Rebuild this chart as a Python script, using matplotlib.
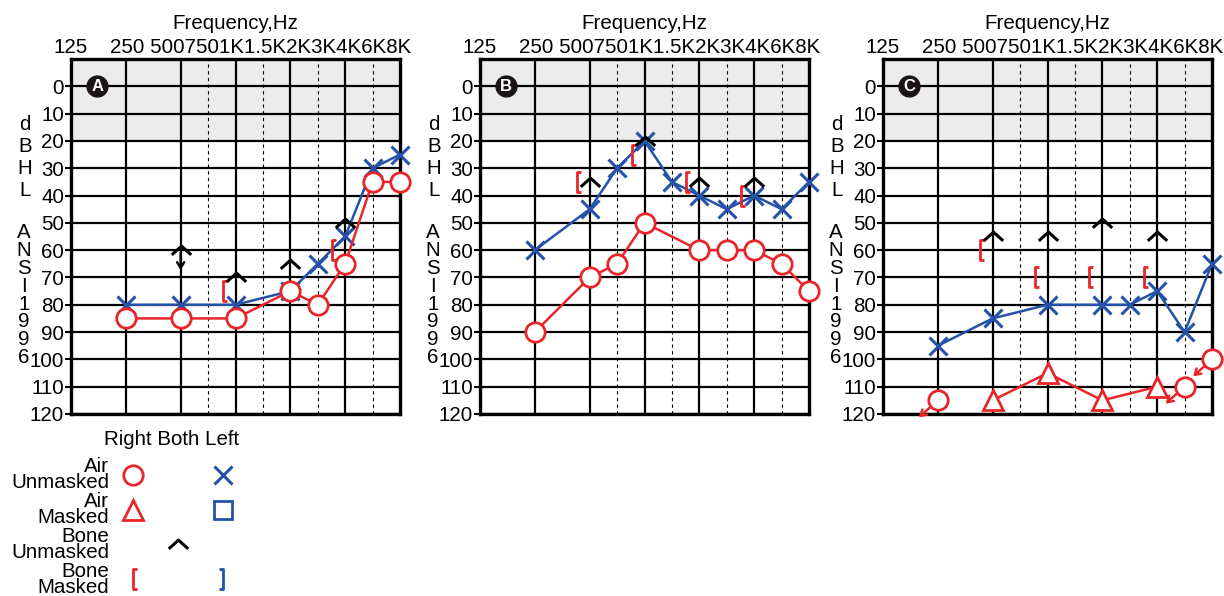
import numpy as np
import matplotlib
matplotlib.use("Agg")
import matplotlib.pyplot as plt
from matplotlib.path import Path
from matplotlib import transforms

plt.rcParams['font.family'] = ['Liberation Sans', 'DejaVu Sans']

RED = '#e8262a'
BLUE = '#2352a8'
FS = 14.8

freq_ticks = [125, 250, 500, 750, 1000, 1500, 2000, 3000, 4000, 6000, 8000]
freq_labels = ['125', '250', '500', '750', '1K', '1.5K', '2K', '3K', '4K', '6K', '8K']
db_ticks = list(range(0, 130, 10))

# panel A
a_right_freq = [250, 500, 1000, 2000, 3000, 4000, 6000, 8000]
a_right_air = [85, 85, 85, 75, 80, 65, 35, 35]
a_left_freq = [250, 500, 1000, 2000, 3000, 4000, 6000, 8000]
a_left_air = [80, 80, 80, 75, 65, 55, 30, 25]
a_bone_freq = [500, 1000, 2000, 4000]
a_bone = [60, 70, 65, 50]
a_bone_nr = [500]          # bone no response
a_mbone_freq = [1000, 4000]
a_mbone = [75, 60]

# panel B
b_right_freq = [250, 500, 750, 1000, 2000, 3000, 4000, 6000, 8000]
b_right_air = [90, 70, 65, 50, 60, 60, 60, 65, 75]
b_left_freq = [250, 500, 750, 1000, 1500, 2000, 3000, 4000, 6000, 8000]
b_left_air = [60, 45, 30, 20, 35, 40, 45, 40, 45, 35]
b_bone_freq = [500, 1000, 2000, 4000]
b_bone = [35, 20, 35, 35]
b_mbone_freq = [500, 1000, 2000, 4000]
b_mbone = [35, 25, 35, 40]

# panel C
c_right_freq = [250, 6000, 8000]      # no response
c_right_air = [115, 110, 100]
c_rmask_freq = [500, 1000, 2000, 4000]
c_rmask_air = [115, 105, 115, 110]
c_left_freq = [250, 500, 1000, 2000, 3000, 4000, 6000, 8000]
c_left_air = [95, 85, 80, 80, 80, 75, 90, 65]
c_bone_freq = [500, 1000, 2000, 4000]
c_bone = [55, 55, 50, 55]
c_mbone_freq = [500, 1000, 2000, 4000]
c_mbone = [60, 70, 70, 70]

# custom markers
caret = Path([(-1, -0.45), (0, 0.45), (1, -0.45)],
             [Path.MOVETO, Path.LINETO, Path.LINETO])
lbr = Path([(0.4, 1), (0, 1), (0, -1), (0.4, -1)],
           [Path.MOVETO, Path.LINETO, Path.LINETO, Path.LINETO])
rbr = Path([(-0.4, 1), (0, 1), (0, -1), (-0.4, -1)],
           [Path.MOVETO, Path.LINETO, Path.LINETO, Path.LINETO])


def fpos(f):
    # octave index, inter-octave frequencies sit half-way
    o = np.log2(f / 125.0)
    b = np.floor(o + 1e-9)
    return b if abs(o - b) < 1e-9 else b + 0.5


def xs(freqs):
    return [fpos(f) for f in freqs]


CIRC = dict(marker='o', ms=14, mew=2, mfc='white', mec=RED, color=RED, lw=1.8)
TRI = dict(marker='^', ms=15, mew=2, mfc='white', mec=RED, color=RED, lw=1.8)
CROSS = dict(marker='x', ms=13, mew=2.2, color=BLUE, lw=1.8)
CARET = dict(marker=caret, ms=14, mew=2.2, mfc='none', mec='black', ls='none')
BRK = dict(marker=lbr, ms=14, mew=2, mfc='none', mec=RED, ls='none')


def no_response(ax, f, v, dx, dy, color, shrink):
    ax.annotate('', xy=(fpos(f), v), xytext=(dx, dy), textcoords='offset pixels',
                arrowprops=dict(arrowstyle='<-,head_length=0.4,head_width=0.25',
                                color=color, lw=1.8, shrinkA=0, shrinkB=shrink),
                zorder=6, annotation_clip=False)


def setup(ax, letter):
    ax.set_xlim(0, 6)
    ax.set_ylim(120, -10)
    ax.axhspan(-10, 20, color='#ececec', zorder=0)
    ax.set_xticks([1, 2, 3, 4, 5])
    ax.set_xticks([2.5, 3.5, 4.5, 5.5], minor=True)
    ax.set_yticks(db_ticks)
    ax.set_yticklabels([str(d) for d in db_ticks], fontsize=FS)
    ax.tick_params(axis='x', which='both', length=0, labelbottom=False)
    ax.tick_params(axis='y', length=4, width=1.5, pad=1)
    ax.grid(which='major', axis='both', color='black', lw=1.6, zorder=1)
    ax.grid(which='minor', axis='x', color='black', lw=0.8, ls=(0, (3, 3)), zorder=1)
    ax.set_axisbelow(True)
    for s in ax.spines.values():
        s.set_linewidth(2.4)

    # frequency labels on top
    ax.annotate(freq_labels[0], xy=(fpos(freq_ticks[0]), 1), xycoords=('data', 'axes fraction'),
                xytext=(0, 6), textcoords='offset pixels', ha='center', va='baseline', fontsize=FS)
    rest = freq_labels[1] + ' ' + ''.join(freq_labels[2:])
    ax.annotate(rest, xy=(fpos(freq_ticks[1]), 1), xycoords=('data', 'axes fraction'),
                xytext=(-16, 6), textcoords='offset pixels', ha='left', va='baseline', fontsize=FS)
    ax.annotate('Frequency,Hz', xy=(0.5, 1), xycoords='axes fraction',
                xytext=(0, 30), textcoords='offset pixels', ha='center', va='baseline', fontsize=FS)

    # stacked axis caption
    ax.annotate('\n'.join('dBHL'), xy=(0, 26), xycoords=('axes fraction', 'data'),
                xytext=(-46, 0), textcoords='offset pixels', ha='center', va='center',
                fontsize=FS, linespacing=1.2)
    ax.annotate('\n'.join('ANSI1996'), xy=(0, 76.5), xycoords=('axes fraction', 'data'),
                xytext=(-47, 0), textcoords='offset pixels', ha='center', va='center',
                fontsize=FS, linespacing=0.92)

    # circled panel letter
    ax.plot(0.48, 0, 'o', ms=15, color='#1a1414', zorder=5, clip_on=False)
    ax.text(0.48, 0, letter, color='white', fontsize=12, fontweight='bold',
            ha='center', va='center', zorder=6)


def brackets(ax, fig, freqs, vals):
    tr = transforms.offset_copy(ax.transData, fig=fig, x=-13, y=0, units='dots')
    ax.plot(xs(freqs), vals, transform=tr, zorder=4, clip_on=False, **BRK)


fig = plt.figure(figsize=(12.24, 5.96), dpi=100)
W, H = 1224.0, 596.0
lefts = [71, 480, 883]
axes = [fig.add_axes([l / W, 1 - 414 / H, 329 / W, 355 / H]) for l in lefts]
axA, axB, axC = axes

# --- A
setup(axA, 'A')
axA.plot(xs(a_left_freq), a_left_air, zorder=3, clip_on=False, **CROSS)
axA.plot(xs(a_right_freq), a_right_air, zorder=4, clip_on=False, **CIRC)
axA.plot(xs(a_bone_freq), a_bone, zorder=5, clip_on=False, **CARET)
brackets(axA, fig, a_mbone_freq, a_mbone)
for f in a_bone_nr:
    v = a_bone[a_bone_freq.index(f)]
    no_response(axA, f, v, 0, -20, 'black', 2)

# --- B
setup(axB, 'B')
axB.plot(xs(b_right_freq), b_right_air, zorder=4, clip_on=False, **CIRC)
axB.plot(xs(b_left_freq), b_left_air, zorder=3, clip_on=False, **CROSS)
axB.plot(xs(b_bone_freq), b_bone, zorder=5, clip_on=False, **CARET)
brackets(axB, fig, b_mbone_freq, b_mbone)

# --- C
setup(axC, 'C')
axC.plot(xs(c_left_freq), c_left_air, zorder=3, clip_on=False, **CROSS)
axC.plot(xs(c_rmask_freq), c_rmask_air, zorder=4, clip_on=False, **TRI)
axC.plot(xs(c_right_freq), c_right_air, ls='none', zorder=4, clip_on=False, **CIRC)
for f, v in zip(c_right_freq, c_right_air):
    no_response(axC, f, v, -19, -17, RED, 7)
axC.plot(xs(c_bone_freq), c_bone, zorder=5, clip_on=False, **CARET)
brackets(axC, fig, c_mbone_freq, c_mbone)

# --- legend block
lg = fig.add_axes([0, 0, 262 / W, 170 / H])
lg.set_xlim(-2.96, 2.86)
lg.set_ylim(3.48, -1.4)
lg.axis('off')
lg.text(0.84, -1, 'Right Both Left', ha='center', va='center', fontsize=FS)
row_names = ['Air\nUnmasked', 'Air\nMasked', 'Bone\nUnmasked', 'Bone\nMasked']
for r, name in enumerate(row_names):
    lg.text(-0.53, r, name, ha='right', va='center', fontsize=FS, linespacing=0.8)
lg.plot(0, 0, ls='none', **{k: v for k, v in CIRC.items() if k != 'lw'})
lg.plot(2, 0, ls='none', **{k: v for k, v in CROSS.items() if k != 'lw'})
lg.plot(0, 1, ls='none', **{k: v for k, v in TRI.items() if k != 'lw'})
lg.plot(2, 1, ls='none', marker='s', ms=13, mew=2, mfc='white', mec=BLUE)
lg.plot(1, 2, **CARET)
lg.plot(0, 3, **BRK)
lg.plot(2, 3, ls='none', marker=rbr, ms=14, mew=2, mfc='none', mec=BLUE)

fig.savefig('out.png', dpi=100)
